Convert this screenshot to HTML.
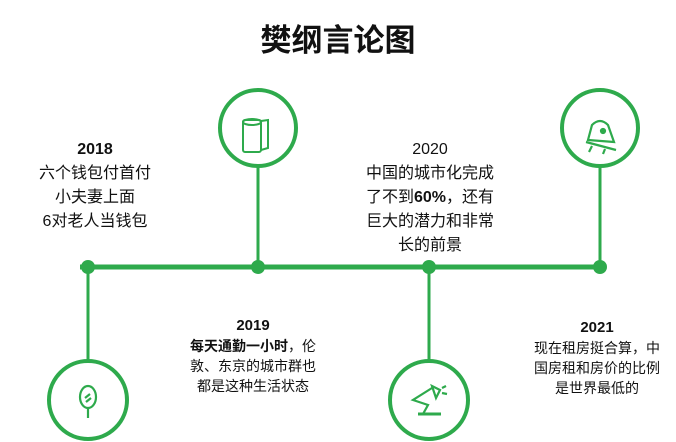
<!DOCTYPE html>
<html><head><meta charset="utf-8"><style>
body{margin:0;width:676px;height:442px;background:#fff;position:relative;overflow:hidden;font-family:"Liberation Sans","Noto Sans CJK SC",sans-serif;color:#111}
.t{position:absolute;text-align:center;white-space:nowrap}
</style></head><body>
<svg width="676" height="442" style="position:absolute;left:0;top:0">
<g stroke="#2eaa4c" fill="none">
<line x1="80" y1="267" x2="604" y2="267" stroke-width="5"/>
<line x1="258" y1="166" x2="258" y2="267" stroke-width="3"/>
<line x1="600" y1="166" x2="600" y2="267" stroke-width="3"/>
<line x1="88" y1="267" x2="88" y2="362" stroke-width="3"/>
<line x1="429" y1="267" x2="429" y2="362" stroke-width="3"/>
<circle cx="258" cy="128" r="38" stroke-width="4"/>
<circle cx="600" cy="128" r="38" stroke-width="4"/>
<circle cx="88" cy="400" r="39" stroke-width="4"/>
<circle cx="429" cy="400" r="39" stroke-width="4"/>
<g stroke-width="2">
<rect x="243" y="120" width="18" height="32" rx="2"/>
<ellipse cx="252" cy="122" rx="9" ry="3"/>
<path d="M261 121 L268 120 L268 148 L261 150"/>
</g>
<g stroke-width="2.2">
<path d="M588 140 L592 125 Q600 117 608 125 L614 142 Z"/>
<line x1="586" y1="142" x2="616" y2="150"/>
<circle cx="603" cy="131" r="2" fill="#2eaa4c"/>
<line x1="592" y1="146" x2="589" y2="152"/>
<line x1="605" y1="149" x2="603" y2="154"/>
</g>
<g stroke-width="2.2">
<ellipse cx="88" cy="397" rx="8" ry="11"/>
<line x1="88" y1="408" x2="88" y2="418"/>
<line x1="85" y1="398" x2="90" y2="394"/>
<line x1="86" y1="402" x2="91" y2="398"/>
</g>
<g stroke-width="2.2">
<line x1="418" y1="414" x2="441" y2="414" stroke-width="3"/>
<path d="M423 414 L428 405 L413 400 L432 388"/>
<path d="M432 386 L440 390 L436 398 Z"/>
<line x1="442" y1="388" x2="446" y2="386"/>
<line x1="442" y1="393" x2="447" y2="394"/>
</g>
</g>
<g fill="#2eaa4c">
<circle cx="88" cy="267" r="7"/><circle cx="258" cy="267" r="7"/>
<circle cx="429" cy="267" r="7"/><circle cx="600" cy="267" r="7"/>
</g>
</svg>
<div class="t" style="left:0;width:676px;top:15px;font-size:31px;font-weight:bold">樊纲言论图</div>
<div class="t" style="left:15px;width:160px;top:138px;font-size:16px;line-height:24px"><b>2018</b><br>六个钱包付首付<br>小夫妻上面<br>6对老人当钱包</div>
<div class="t" style="left:350px;width:160px;top:138px;font-size:16px;line-height:24px">2020<br>中国的城市化完成<br>了不到<b>60%</b>，还有<br>巨大的潜力和非常<br>长的前景</div>
<div class="t" style="left:173px;width:160px;top:315px;font-size:14px;line-height:20px"><b style="font-size:15px">2019</b><br><b>每天通勤一小时</b>，伦<br>敦、东京的城市群也<br>都是这种生活状态</div>
<div class="t" style="left:517px;width:160px;top:317px;font-size:14px;line-height:20px"><b style="font-size:15px">2021</b><br>现在租房挺合算，中<br>国房租和房价的比例<br>是世界最低的</div>
</body></html>
